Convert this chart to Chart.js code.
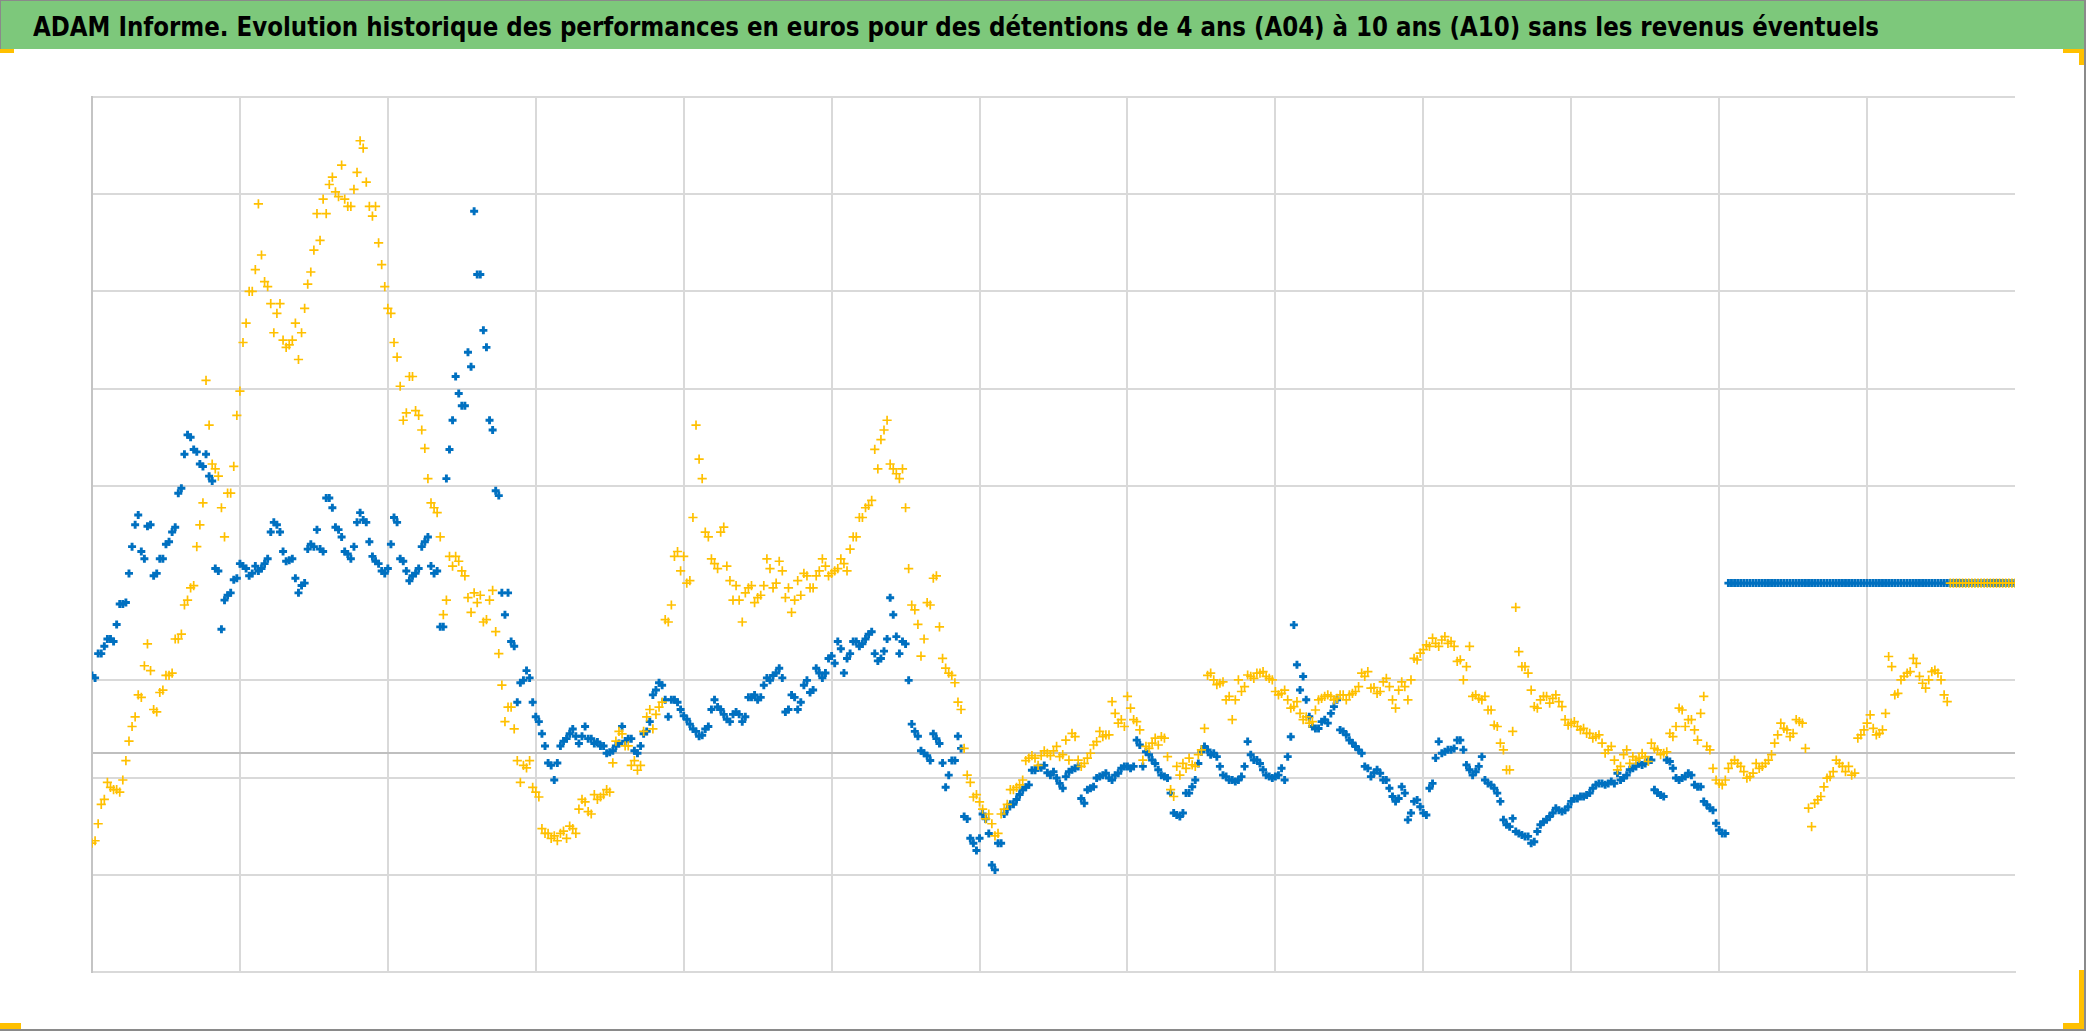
<!DOCTYPE html>
<html>
<head>
<meta charset="utf-8">
<script src="https://cdn.jsdelivr.net/npm/chart.js@4.4.1/dist/chart.umd.min.js"></script>
<style>
html,body{margin:0;padding:0;background:#fff;}
#wrap{position:relative;width:2086px;height:1031px;overflow:hidden;background:#fff;}
#chart{position:absolute;left:0;top:0;}
#title{position:absolute;left:0;top:0;width:2086px;height:49px;background:#7DC87B;border-top:1px solid #8a8a8a;border-left:1px solid #8a8a8a;box-sizing:border-box;z-index:2;}
#ttext{position:absolute;left:32px;top:12px;font-family:"Liberation Sans Narrow","DejaVu Sans Condensed","Liberation Sans",sans-serif;font-weight:bold;font-size:27px;line-height:1;white-space:nowrap;transform-origin:0 0;color:#000;}
#frame{position:absolute;left:0;top:0;width:2086px;height:1031px;box-sizing:border-box;border-right:2px solid #8a8a8a;border-bottom:2px solid #8a8a8a;pointer-events:none;z-index:3;}
.mk{position:absolute;background:#FFC000;z-index:4;}
</style>
</head>
<body>
<div id="wrap">
  <canvas id="chart" width="2086" height="1031"></canvas>
  <div id="title"><span id="ttext">ADAM Informe. Evolution historique des performances en euros pour des détentions de 4 ans (A04) à 10 ans (A10) sans les revenus éventuels</span></div>
  <div id="frame"></div>
  <div class="mk" style="left:0;top:49px;width:14px;height:4px"></div>
  <div class="mk" style="left:2063px;top:49px;width:21px;height:4px"></div>
  <div class="mk" style="left:2079px;top:49px;width:5px;height:16px"></div>
  <div class="mk" style="left:0;top:1023px;width:21px;height:6px"></div>
  <div class="mk" style="left:2079px;top:970px;width:5px;height:59px"></div>
  <div class="mk" style="left:2063px;top:1023px;width:21px;height:6px"></div>
</div>
<script>
// ---- axis definitions (years on x, performance in % on y) ----
const X_START = 1972;          // date of first observation
const X_STEP = 1 / 6;          // main observations every two months
const X_MID_OFFSET = 0.5;      // intermediate observations, one month later
const X_MIN = 1972, X_MAX = 2024, X_GRID_STEP = 4;
const Y_MIN = -45, Y_MAX = 135;
const Y_GRID = [-45, -25, -5, 0, 15, 35, 55, 75, 95, 115, 135];
const Y_ZERO = 0;
const Y_HIDDEN_GRID = 35;

// ---- series A10 (blue) : main observations ----
const serieA10 = [
  16,20.5,22,23.5,26.5,30.7,37,47,41.5,46.7,
  36.5,40,43,45.5,53.5,61.5,65,62,59,57,
  38,25.5,32.5,35.7,39,38,37,37.5,39,45.5,
  47,41.5,39.7,36,34.5,42,42.5,42,52.5,50.5,
  46,41.5,40,47.5,48,43.5,39.5,37.5,38,48.5,
  40,37.5,36.5,38,43.5,38.5,37.5,26,62.5,77.5,
  71.5,82.5,111.5,98.5,83.5,66.5,53,28.5,23,10.5,
  15,15.5,7.5,4,-2,-5.5,1.5,3,5,2,
  5.5,3,2.3,1.5,0.2,1.5,5.5,3,0.5,1.5,
  4.5,12,14.5,11,11,10.5,7.7,6,4.5,3.7,
  5.5,11,9,7,8,8,7.5,11.5,11,14,
  15,16.5,15.5,9,11.5,10.5,15,13,16.5,16.5,
  20,23,16.5,20.5,23,22.5,24.5,20.5,19.5,23.5,
  28.5,20.5,22.5,6,3.5,0,-1.5,3,-2,-4.5,
  -1.5,1,-13.5,-18.5,-17.5,-13.5,-23,-18.5,-12.5,-10.5,
  -9.5,-7.5,-6.5,-3.5,-3,-4,-3.8,-6.2,-4.8,-3.4,
  -2.7,-10.3,-7.2,-5.1,-4.5,-5.1,-4.5,-3.1,-2.7,-2.7,
  1.7,0.3,-1.4,-3.4,-4.8,-8.2,-12.7,-12.3,-8.2,-5.5,
  0.3,0.7,0,-2.7,-4.8,-5.5,-5.5,-2.7,-0.3,-1.4,
  -3.4,-4.8,-4.8,-3.1,-0.7,26.4,13,11,5.5,5.1,
  6.9,8.2,11,4.5,2.7,1.4,0,-3.1,-4,-4.1,
  -5.5,-8.9,-9.3,-8.2,-12.3,-9.6,-12.3,-7.2,-1,0,
  0.7,1,2.7,-2.4,-4.5,-2.7,-5.5,-6.5,-8.2,-13.7,
  -15.1,-16.1,-16.8,-17.1,-18.2,-14.7,-13.7,-12.3,-11.7,-11.7,
  -9.9,-9.3,-8.9,-8.2,-6.5,-6.2,-6.2,-6.2,-5.5,-4.5,
  -3.1,-2.1,-2.1,-1.4,-8.2,-8.9,-1.7,-5.1,-5.1,-4.1,
  -6.5,-6.9,-10.6,-11.7,-15.8,-16.5,35,35,35,35,
  35,35,35,35,35,35,35,35,35,35,
  35,35,35,35,35,35,35,35,35,35,
  35,35,35,35,35,35,35,35,35,35,
  35,35,35,35,35,35,35,35,35,35,
  35,35,35
];
// ---- series A10 (blue) : intermediate observations ----
const serieA10mid = [
  15.5,20.5,23.5,23,30.7,31,42.5,49,40,47,
  37,40,43.5,46.5,54.5,65.5,62.5,59.5,61.5,56,
  37.5,31.5,33,36,38.5,36.5,38.5,38,40,47.5,
  45.5,39.5,40,33,35,43,46,41.5,52.5,46.5,
  44.5,41,42.5,49.5,47.5,40.5,39,37,43,47.5,
  39.5,35.5,37,42.5,44.5,37,26,56.5,68.5,74,
  71.5,79.5,98.5,87,68.5,54,33,33,22,14.5,
  17,10.5,6.5,1.5,-2.5,-2,2.5,4,3.5,3.5,
  3,2,1.5,0,0.5,2,2.5,3,0,4,
  6.5,13,14,7.5,11,9,7,5,3.5,5,
  9,9.5,8,6.5,8.5,6.5,11.5,12,11.5,15.5,
  16,17.5,8.5,12,9,14,12.5,17.5,15.5,19.5,
  18.5,21.5,19.5,23,22,23.5,25,19,21,32,
  24,23,15,4.5,0.5,-0.5,4,2,-7,-1.5,
  3.5,-13,-17.5,-20,-12.5,-16.5,-24,-18.5,-11.5,-10.5,
  -8.5,-7,-3.5,-3,-2.5,-4.5,-5.1,-7.2,-3.8,-3.1,
  -9.3,-7.5,-6.9,-4.8,-4.1,-5.5,-4.1,-2.7,-3.1,2.7,
  -2.7,-0.3,-2.1,-4.5,-5.1,-12.3,-13,-8.2,-6.9,-2.1,
  1.4,-0.3,-0.7,-4.5,-5.5,-5.8,-4.8,2.4,-1.4,-2.1,
  -4.5,-5.1,-4.5,-5.5,3.4,18.2,15.8,7.5,5.1,6.5,
  6.2,9.6,4.8,3.8,2.1,0.7,-2.7,-4.8,-3.4,-5.5,
  -7.2,-9.9,-6.9,-13.7,-9.9,-11,-12.7,-6.2,2.4,0.3,
  0.7,2.7,0.7,-3.4,-3.8,-0.7,-6.2,-7.2,-9.9,-14.7,
  -13.4,-16.5,-17.1,-18.5,-16.1,-14.1,-13,-11.3,-12,-11,
  -9.3,-8.9,-8.6,-7.2,-6.2,-6.5,-5.8,-4.1,-5.1,-3.4,
  -2.7,-2.4,-1.4,-7.5,-8.6,-1.4,-3.1,-5.5,-4.8,-4.5,
  -6.9,-9.9,-11.3,-14.4,-16.5,35,35,35,35,35,
  35,35,35,35,35,35,35,35,35,35,
  35,35,35,35,35,35,35,35,35,35,
  35,35,35,35,35,35,35,35,35,35,
  35,35,35,35,35,35,35,35,35,35,
  35,35
];

// ---- series A04 (yellow) : main observations ----
const serieA04 = [
  -18.5,-14.5,-9.5,-7,-7.5,-5.5,2.5,7.5,11.5,22.5,
  9,12.5,16,16.5,23.5,30.5,34,42.5,51.5,67.5,
  58.5,50.5,53.5,59,74.5,88.5,95,113,97,92.5,
  90.5,85,84,88.5,86.5,96.5,103.5,105.5,111,118.5,
  114.5,114,112.5,119.5,124.5,112.5,112.5,100.5,91.5,84.5,
  75.5,70,77.5,69.5,62.7,51.5,49.5,28.5,40.5,40.5,
  37.5,32,33,32.5,27.5,33.5,20.5,6.5,9.5,-1.5,
  -2.5,-1.5,-8,-15.5,-16.5,-17,-16.5,-17.5,-15.5,-11.5,
  -10,-12.5,-9.5,-8.5,-8,2.5,4,1.5,-1.5,-2.5,
  7.5,5,9.5,27.5,30.5,41.5,40.5,35.5,67.5,56.5,
  44.5,39,45.5,38.5,31.5,31.5,33,34.5,32,34.5,
  38,35,37.5,34,31.5,32.5,36.5,34,37.5,38.5,
  37,38,39,42,44.5,48.5,51,62.5,64.5,68.5,
  58.5,56.5,50.5,30.5,26.5,23.5,30.5,36.5,19.5,16.5,
  14.5,9,-4.5,-9,-10,-13.5,-14.5,-16.5,-11.5,-7.5,
  -7,-5.5,-1,-1,-0.5,0,0.5,-0.7,2.7,4.1,
  -1.4,-2.1,0,2.4,3.4,3.8,8.2,6.9,11.7,6.9,
  4.8,1.4,2.1,1.7,3.1,-7.5,-2.7,-2.1,-1,-2.7,
  0.7,16,15.1,14.4,11,6.9,15.1,13.7,15.8,16.5,
  16.8,15.4,12.7,12.3,11,9.6,8.2,7.5,6.5,11,
  11.7,11.7,11.3,12,12,12.7,16.5,16.8,13.5,12.7,
  15.4,11,13,13.7,15.1,19.2,21.3,22,22.6,23.3,
  22.6,22,19.2,17.8,11.7,11.3,11.7,8.9,5.5,0.7,
  -3.4,30,17.8,16.5,9.6,11,11.7,11.3,10.6,6.9,
  6.2,5.5,5.1,4.1,3.4,2.1,0.7,-1.4,-2.7,0.7,
  -0.7,-1,-0.7,2.1,0.7,0,4.1,5.5,8.9,6.9,
  4.8,8.2,1.4,-3.1,-6.2,-5.5,-2.1,-2.1,-3.8,-4.8,
  -2.1,-2.7,-1.4,2.1,6.2,4.8,4.1,6.5,1,-15.1,
  -9.6,-6.9,-4.8,-1.4,-2.7,-2.7,-4.1,3.8,6.2,5.1,
  4.1,8.2,17.8,12.3,15.8,16.8,18.5,14.4,15.1,17.1,
  15.1,10.6,35,35,35,35,35,35,35,35,
  35,35,35
];
// ---- series A04 (yellow) : intermediate observations ----
const serieA04mid = [
  -18,-10.5,-6,-7.5,-8,-1.5,5.5,12,18,17,
  8.5,13,16,23.5,24.5,31.5,34.5,47,76.7,59.5,
  57,44.5,53.5,69.5,84.5,95,99.5,102.5,96,86.5,
  92.5,83.5,85,81,91.5,99,111,114,117,115.5,
  121,112.5,116,126,117.5,110.5,105,96,90.5,81.5,
  68.5,77.5,70.5,66.5,56.5,50.5,44.5,31.5,38.5,39.5,
  36.5,29,31,27,31.5,25,14,9.5,5,-6,
  -3,-7,-9,-16.5,-17.5,-18,-16,-15,-16.5,-9.5,
  -12,-8.5,-9,-7.5,-2,4.5,1.5,-2.5,-3.5,4.5,
  9,8,10.5,27,40.5,37.5,35,48.5,60.5,45.5,
  40,38,46.5,35.5,34.5,27,34,31,32.5,40,
  34,39.5,32,29,35.5,37,34,36.5,40,36.5,
  37.5,40,37.5,44.5,48.5,50.5,52,58.5,66.5,59.5,
  57.5,58.5,38,29.5,20,31,36,26,17.5,16,
  10.5,1,-6,-8.5,-11.5,-12.5,-17,-12.5,-10.5,-7.5,
  -6.5,-1.5,-0.5,-2.5,0.5,-0.5,1.4,-0.3,-1.4,3.4,
  -2.7,-1,1.7,4.5,3.8,10.6,6.2,5.5,9.3,6.5,
  -1.4,1,3.1,3.4,-0.7,-8.9,-4.5,-3.1,-2.4,-0.3,
  5.1,16.5,14.1,14.7,11.7,11,12.7,16.1,15.4,16.5,
  15.8,15.1,12,13,9.3,10.6,6.9,6.2,8.9,11.3,
  12,11,12,11,12.3,13.7,15.8,13.4,12.3,14.7,
  13.7,9.3,14.7,11,19.5,20.6,22.3,23.7,22,24,
  23,18.9,15.1,22,12,11,8.9,5.8,2.1,-3.4,
  4.5,20.9,17.8,13,9.3,11.7,10.3,12,9.6,5.8,
  6.5,4.8,4.1,3.1,3.8,0,1.4,-3.4,-0.3,-2.1,
  -1.4,0,-1.7,1,-0.3,0.3,3.4,9.3,5.5,6.9,
  2.7,11.7,0.7,-5.5,-6.5,-3.1,-1.4,-2.7,-5.1,-4.1,
  -3.1,-2.1,-0.3,3.8,5.1,3.4,6.9,6.2,-11.3,-10.3,
  -8.9,-5.1,-3.8,-2.1,-3.8,-4.5,3.1,4.8,7.9,3.8,
  4.8,19.9,12,15.1,16.5,19.5,15.8,13.4,16.8,16.5,
  12,35,35,35,35,35,35,35,35,35,
  35,35
];

const BLUE = '#0070C0', GOLD = '#FFC000';
const GRID = '#D9D9D9', ZERO_LINE = '#BFBFBF';

function toPoints(arr, offset) {
  return arr.map((y, i) => ({ x: X_START + (i + offset) * X_STEP, y }));
}

// fit title to its original width
(function () {
  const s = document.getElementById('ttext');
  const w = s.getBoundingClientRect().width;
  if (w > 0) s.style.transform = 'scaleX(' + (1846 / w) + ')';
})();

Chart.defaults.animation = false;
new Chart(document.getElementById('chart'), {
  type: 'scatter',
  data: {
    datasets: [
      {
        label: 'A04', order: 1,
        data: toPoints(serieA04, 0).concat(toPoints(serieA04mid, X_MID_OFFSET)),
        pointStyle: 'cross', pointRadius: 4.6, pointHoverRadius: 4.6,
        pointBorderWidth: 1.7, borderColor: GOLD, backgroundColor: GOLD, showLine: false
      },
      {
        label: 'A10', order: 2,
        data: toPoints(serieA10, 0).concat(toPoints(serieA10mid, X_MID_OFFSET)),
        pointStyle: 'cross', pointRadius: 4.0, pointHoverRadius: 4.0,
        pointBorderWidth: 2.9, borderColor: BLUE, backgroundColor: BLUE, showLine: false
      }
    ]
  },
  options: {
    responsive: false,
    devicePixelRatio: 1,
    layout: { padding: { left: 92, top: 97, right: 71, bottom: 59 } },
    plugins: { legend: { display: false }, tooltip: { enabled: false }, title: { display: false } },
    scales: {
      x: {
        type: 'linear', min: X_MIN, max: X_MAX,
        ticks: { display: false, stepSize: X_GRID_STEP },
        grid: {
          drawTicks: false, lineWidth: 2,
          color: (c) => (c.tick && c.tick.value === X_MAX) ? 'rgba(0,0,0,0)' : GRID
        },
        border: { display: true, color: GRID, width: 2 }
      },
      y: {
        type: 'linear', min: Y_MIN, max: Y_MAX,
        afterBuildTicks: (axis) => { axis.ticks = Y_GRID.map(v => ({ value: v })); },
        ticks: { display: false },
        grid: {
          drawTicks: false,
          lineWidth: 2,
          color: (c) => {
            const v = c.tick ? c.tick.value : null;
            if (v === Y_ZERO) return ZERO_LINE;
            if (v === Y_HIDDEN_GRID) return 'rgba(0,0,0,0)';
            return GRID;
          }
        },
        border: { display: true, color: '#C4C4C4', width: 2 }
      }
    }
  }
});
</script>
</body>
</html>
